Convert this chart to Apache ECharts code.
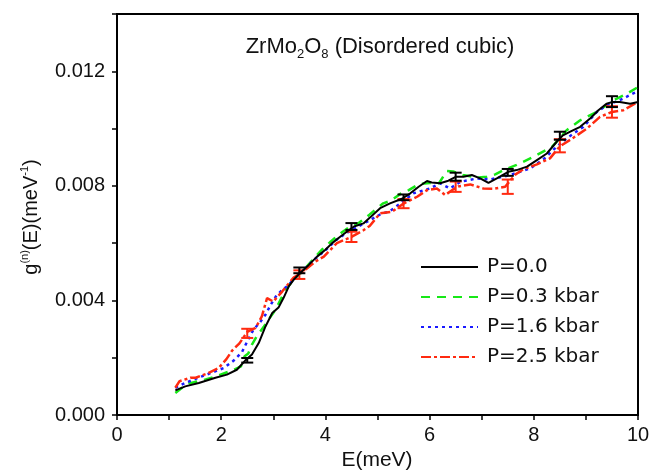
<!DOCTYPE html>
<html>
<head>
<meta charset="utf-8">
<script src="https://cdn.jsdelivr.net/npm/echarts@6/dist/echarts.min.js"></script>
<style>
  html, body { margin: 0; padding: 0; background: #fff; }
  #chart { width: 650px; height: 470px; }
</style>
</head>
<body>
<div id="chart"></div>
<script>
// curves: [E (meV), g(E)]
const p00 = [[1.12,0.00086],[1.31,0.00100],[1.57,0.00112],[1.89,0.00130],[2.11,0.00141],[2.30,0.00158],[2.46,0.00190],[2.59,0.00211],[2.72,0.00251],[2.85,0.00309],[2.98,0.00356],[3.10,0.00375],[3.20,0.00410],[3.30,0.00450],[3.39,0.00472],[3.52,0.00497],[3.68,0.00524],[3.84,0.00553],[4.00,0.00577],[4.13,0.00600],[4.29,0.00623],[4.41,0.00640],[4.55,0.00658],[4.73,0.00669],[4.86,0.00690],[5.05,0.00722],[5.24,0.00739],[5.47,0.00755],[5.63,0.00774],[5.79,0.00797],[5.95,0.00817],[6.04,0.00812],[6.20,0.00809],[6.36,0.00818],[6.51,0.00832],[6.65,0.00832],[6.81,0.00838],[6.97,0.00826],[7.13,0.00810],[7.29,0.00826],[7.51,0.00849],[7.67,0.00855],[7.87,0.00867],[8.06,0.00890],[8.25,0.00913],[8.44,0.00954],[8.55,0.00975],[8.70,0.00989],[8.89,0.01006],[9.08,0.01035],[9.24,0.01064],[9.40,0.01087],[9.51,0.01093],[9.65,0.01093],[9.85,0.01087],[10.0,0.01093]];
const p03 = [[1.12,0.00077],[1.25,0.00095],[1.38,0.00110],[1.70,0.00124],[1.95,0.00138],[2.24,0.00158],[2.38,0.00170],[2.45,0.00205],[2.52,0.00215],[2.59,0.00246],[2.70,0.00280],[2.82,0.00309],[2.91,0.00333],[3.05,0.00370],[3.17,0.00414],[3.26,0.00443],[3.40,0.00475],[3.55,0.00500],[3.70,0.00530],[3.93,0.00577],[4.10,0.00605],[4.25,0.00629],[4.45,0.00655],[4.65,0.00672],[4.85,0.00700],[5.11,0.00739],[5.25,0.00748],[5.44,0.00772],[5.60,0.00785],[5.79,0.00806],[6.00,0.00810],[6.18,0.00809],[6.33,0.00852],[6.45,0.00850],[6.64,0.00838],[6.91,0.00829],[7.10,0.00832],[7.26,0.00840],[7.42,0.00855],[7.67,0.00873],[7.99,0.00901],[8.35,0.00936],[8.63,0.00994],[8.89,0.01029],[9.21,0.01058],[9.53,0.01099],[9.79,0.01122],[10.0,0.01145]];
const p16 = [[1.12,0.00095],[1.31,0.00112],[1.63,0.00135],[1.85,0.00150],[2.05,0.00164],[2.24,0.00190],[2.40,0.00220],[2.50,0.00257],[2.62,0.00298],[2.75,0.00325],[2.85,0.00350],[2.95,0.00385],[3.05,0.00414],[3.14,0.00431],[3.30,0.00455],[3.45,0.00485],[3.60,0.00510],[3.80,0.00545],[4.00,0.00575],[4.20,0.00610],[4.40,0.00635],[4.60,0.00655],[4.86,0.00681],[5.05,0.00700],[5.24,0.00712],[5.45,0.00740],[5.69,0.00774],[6.01,0.00791],[6.20,0.00809],[6.39,0.00791],[6.59,0.00814],[6.91,0.00826],[7.16,0.00822],[7.55,0.00838],[7.93,0.00861],[8.20,0.00895],[8.40,0.00930],[8.63,0.00966],[8.95,0.01006],[9.21,0.01058],[9.40,0.01082],[9.65,0.01099],[9.90,0.01122],[10.0,0.01130]];
const p25 = [[1.12,0.00095],[1.20,0.00118],[1.41,0.00130],[1.51,0.00130],[1.76,0.00147],[1.95,0.00164],[2.10,0.00195],[2.21,0.00225],[2.35,0.00250],[2.50,0.00290],[2.66,0.00304],[2.78,0.00344],[2.88,0.00408],[3.00,0.00396],[3.17,0.00431],[3.39,0.00480],[3.55,0.00497],[3.81,0.00536],[3.97,0.00553],[4.22,0.00600],[4.50,0.00622],[4.73,0.00645],[4.85,0.00660],[5.05,0.00704],[5.28,0.00710],[5.50,0.00738],[5.76,0.00762],[5.95,0.00785],[6.14,0.00791],[6.30,0.00768],[6.43,0.00785],[6.55,0.00798],[6.78,0.00805],[7.03,0.00791],[7.23,0.00790],[7.45,0.00797],[7.65,0.00840],[7.80,0.00858],[8.06,0.00875],[8.31,0.00896],[8.50,0.00938],[8.76,0.00968],[9.02,0.01000],[9.27,0.01041],[9.50,0.01058],[9.72,0.01064],[10.0,0.01093]];

// error bars: [E, value, +/- error]
const err00 = [[2.5,0.00191,0.00008],[3.5,0.00505,0.00010],[4.5,0.00658,0.00012],[5.5,0.00760,0.00010],[6.5,0.00832,0.00014],[7.5,0.00847,0.00012],[8.5,0.00975,0.00014],[9.5,0.01094,0.00019]];
const err25 = [[2.5,0.00285,0.00016],[3.5,0.00490,0.00015],[4.5,0.00622,0.00018],[5.5,0.00738,0.00016],[6.5,0.00797,0.00018],[7.5,0.00797,0.00025],[8.5,0.00940,0.00023],[9.5,0.01058,0.00020]];

const seriesNames = ['P=0.0', 'P=0.3 kbar', 'P=1.6 kbar', 'P=2.5 kbar'];
const colors = ['#000000', '#17e817', '#1a1aff', '#ff2a10'];

const myChart = echarts.init(document.getElementById('chart'), null, { renderer: 'canvas' });

function errorBars(name, data, color) {
    return {
        name: name,
        type: 'custom',
        data: data.map(d => [d[0], d[1] - d[2], d[1] + d[2]]),
        encode: { x: 0, y: [1, 2] },
        z: 5,
        renderItem: function (params, api) {
            const x = api.value(0);
            const top = api.coord([x, api.value(2)]);
            const bot = api.coord([x, api.value(1)]);
            const w = 6;
            const st = { stroke: color, lineWidth: 2 };
            return {
                type: 'group',
                children: [
                    { type: 'line', shape: { x1: top[0], y1: top[1], x2: bot[0], y2: bot[1] }, style: st },
                    { type: 'line', shape: { x1: top[0] - w, y1: top[1], x2: top[0] + w, y2: top[1] }, style: st },
                    { type: 'line', shape: { x1: bot[0] - w, y1: bot[1], x2: bot[0] + w, y2: bot[1] }, style: st }
                ]
            };
        }
    };
}

const option = {
    animation: false,
    backgroundColor: '#fff',
    grid: {
        left: 117, right: 12, top: 14, bottom: 55,
        containLabel: false,
        outerBoundsMode: 'none',
        show: true,
        borderColor: '#000',
        borderWidth: 2,
        backgroundColor: 'transparent'
    },
    legend: {
        data: seriesNames,
        orient: 'vertical',
        left: 415,
        top: 252,
        itemWidth: 57,
        itemHeight: 20,
        itemGap: 10,
        itemStyle: { opacity: 0 },
        textStyle: {
            fontFamily: 'DejaVu Sans',
            fontSize: 20,
            color: '#111',
            lineHeight: 20,
            padding: [0, 0, 0, 4]
        }
    },
    xAxis: {
        type: 'value',
        min: 0, max: 10, interval: 1,
        splitLine: { show: false },
        axisLine: { lineStyle: { color: '#000', width: 2 } },
        axisTick: { inside: false, length: 5, lineStyle: { color: '#000', width: 1.5 } },
        axisLabel: {
            margin: 10,
            fontFamily: 'Liberation Sans',
            fontSize: 20,
            color: '#111',
            formatter: v => (v % 2 === 0 ? String(v) : '')
        }
    },
    yAxis: {
        type: 'value',
        min: 0, max: 0.014, interval: 0.002,
        splitLine: { show: false },
        axisLine: { lineStyle: { color: '#000', width: 2 } },
        axisTick: { inside: false, length: 5, lineStyle: { color: '#000', width: 1.5 } },
        axisLabel: {
            margin: 12,
            fontFamily: 'Liberation Sans',
            fontSize: 20,
            color: '#111',
            formatter: function (v) {
                const k = Math.round(v * 1000);
                return (k % 4 === 0 && k < 14) ? v.toFixed(3) : '';
            }
        }
    },
    graphic: [
        {
            type: 'text',
            x: 380, y: 47,
            style: {
                text: 'ZrMo{sub|2}O{sub|8} (Disordered cubic)',
                fontFamily: 'Liberation Sans',
                fontSize: 22,
                fill: '#111',
                align: 'center',
                verticalAlign: 'middle',
                rich: {
                    sub: { fontFamily: 'Liberation Sans', fontSize: 13, fill: '#111', padding: [14, 0, 0, 0] }
                }
            }
        },
        {
            type: 'text',
            x: 31, y: 217,
            rotation: Math.PI / 2,
            style: {
                text: 'g{sup|(n)}(E)(meV{sup|-1})',
                fontFamily: 'Liberation Sans',
                fontSize: 20,
                fill: '#111',
                align: 'center',
                verticalAlign: 'middle',
                rich: {
                    sup: { fontFamily: 'Liberation Sans', fontSize: 11, fill: '#111', padding: [0, 0, 12, 0] }
                }
            }
        },
        {
            type: 'text',
            x: 377, y: 460,
            style: {
                text: 'E(meV)',
                fontFamily: 'Liberation Sans',
                fontSize: 21,
                fill: '#111',
                align: 'center',
                verticalAlign: 'middle'
            }
        }
    ],
    series: [
        {
            name: seriesNames[0], type: 'line', data: p00, symbol: 'none', z: 6,
            lineStyle: { color: colors[0], width: 2 }, itemStyle: { color: colors[0] }
        },
        {
            name: seriesNames[1], type: 'line', data: p03, symbol: 'none', z: 3,
            lineStyle: { color: colors[1], width: 2.5, type: [9, 7] }, itemStyle: { color: colors[1] }
        },
        {
            name: seriesNames[2], type: 'line', data: p16, symbol: 'none', z: 3,
            lineStyle: { color: colors[2], width: 2.5, type: [3, 4] }, itemStyle: { color: colors[2] }
        },
        {
            name: seriesNames[3], type: 'line', data: p25, symbol: 'none', z: 4,
            lineStyle: { color: colors[3], width: 2.5, type: [10, 3, 3, 3] }, itemStyle: { color: colors[3] }
        },
        errorBars('err25', err25, colors[3]),
        errorBars('err00', err00, colors[0])
    ]
};

myChart.setOption(option);
</script>
</body>
</html>
